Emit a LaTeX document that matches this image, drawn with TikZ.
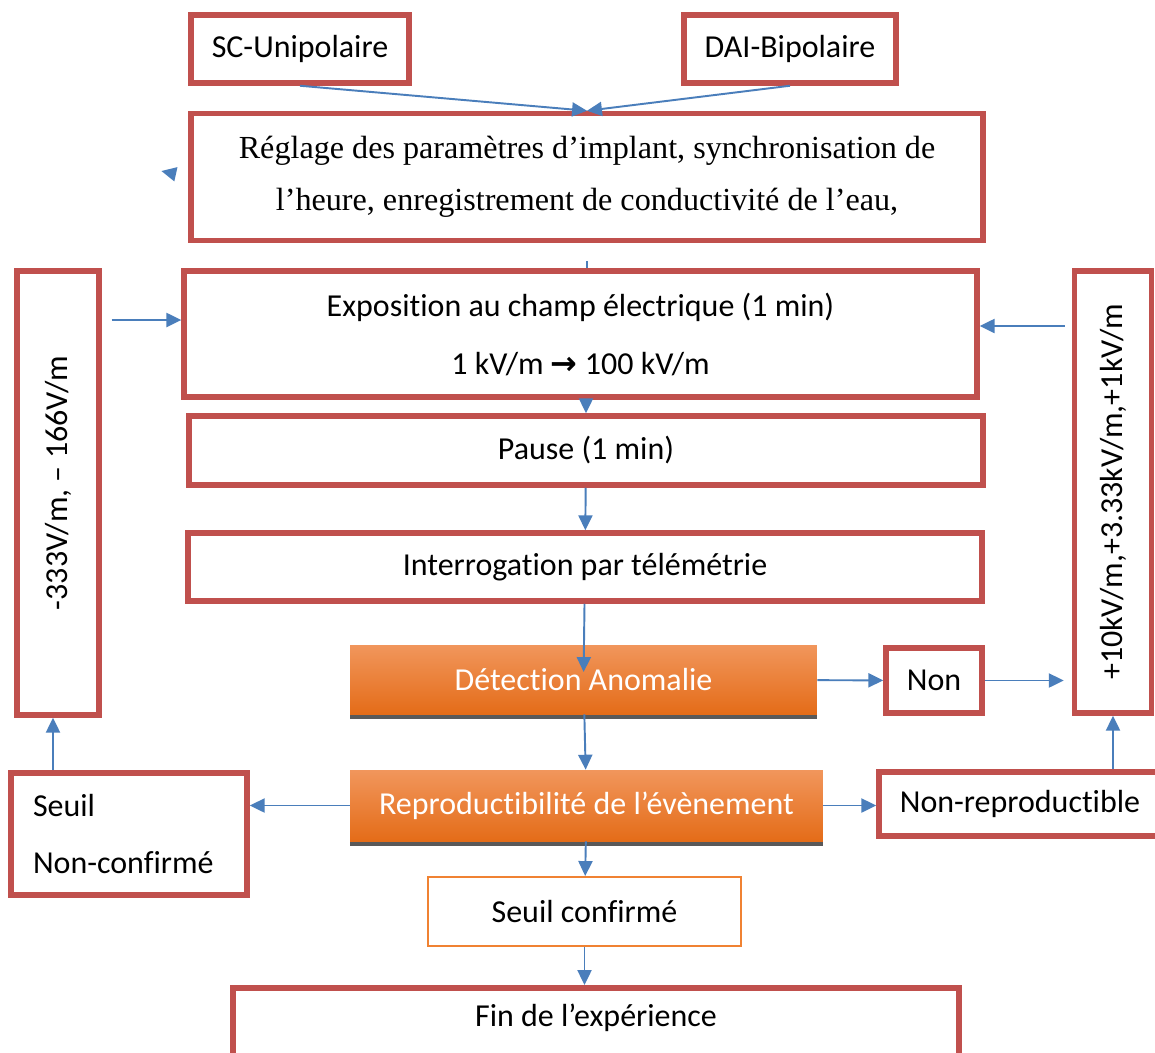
\documentclass[tikz,border=0pt]{standalone}
\usepackage{fontspec}
\usepackage{graphicx}
\setmainfont{Carlito}[Ligatures=NoCommon]
\newfontfamily\timesfont{Liberation Serif}
\newfontfamily\arrowfont{DejaVu Sans}
\usetikzlibrary{arrows.meta,shadows}

\definecolor{boxred}{RGB}{192,80,77}
\definecolor{linkblue}{RGB}{74,126,187}
\definecolor{confirmorange}{RGB}{240,130,50}

\tikzset{
  redbox/.style={draw=boxred, line width=0.11cm, inner sep=0pt, align=center},
  orangebox/.style={top color={rgb,255:red,241;green,150;blue,92},
    middle color={rgb,255:red,241;green,126;blue,42},
    bottom color={rgb,255:red,228;green,108;blue,24},
    text=white, inner sep=0pt, align=center,
    drop shadow={shadow xshift=0cm, shadow yshift=-0.1cm, fill=black!65, opacity=1}},
  thinbox/.style={draw=confirmorange, line width=0.04cm, inner sep=0pt, align=center},
  arr/.style={->, draw=linkblue, line width=1.1pt},
  flow/.style={draw=linkblue, line width=1.1pt}
}

\begin{document}
\begin{tikzpicture}[x=0.02cm, y=-0.02cm,
    >={Triangle[width=8pt,length=8.5pt]},
    every node/.style={font=\fontsize{18.2}{22}\selectfont}]
  \path[use as bounding box, fill=white] (0,0) rectangle (1155,1052);

  % entree
  \node[redbox, minimum width=4.36cm, minimum height=1.36cm] (sc) at (300,49) {SC-Unipolaire};
  \node[redbox, minimum width=4.24cm, minimum height=1.36cm] (dai) at (790,49) {DAI-Bipolaire};
  \node[redbox, minimum width=15.84cm, minimum height=2.54cm,
        font=\timesfont\fontsize{18.3}{22}\selectfont] (reg) at (587,177)
        {Réglage des paramètres d’implant, synchronisation de\\[7.5pt]
         l’heure, enregistrement de conductivité de l’eau,};

  % boucle
  \node[redbox, minimum width=15.86cm, minimum height=2.52cm] (expo) at (580.5,334)
        {Exposition au champ électrique (1 min)\\[11pt]
         1 kV/m {\arrowfont\bfseries →} 100 kV/m};
  \node[redbox, minimum width=15.88cm, minimum height=1.38cm] (pause) at (586,450.5) {Pause (1 min)};
  \node[redbox, minimum width=15.88cm, minimum height=1.36cm] (interro) at (585,567) {Interrogation par télémétrie};
  \node[orangebox, minimum width=9.34cm, minimum height=1.38cm] (det) at (583.5,679.5) {Détection Anomalie};
  \node[orangebox, minimum width=9.46cm, minimum height=1.42cm] (repro) at (586.5,805.5) {Reproductibilité de l’évènement};

  % cotes
  \node[redbox, minimum width=1.64cm, minimum height=8.88cm] (neg) at (58,493)
        {\rotatebox{90}{\hspace*{0.4cm}-333V/m, – 166V/m}};
  \node[redbox, minimum width=1.54cm, minimum height=8.84cm] (pos) at (1113,492)
        {\rotatebox{90}{+10kV/m,+3.33kV/m,+1kV/m}};
  \node[redbox, minimum width=1.92cm, minimum height=1.30cm] (non) at (934,680.5) {Non};
  \node[redbox, minimum width=4.72cm, minimum height=2.44cm, inner xsep=0.44cm,
        text width=3.84cm, align=left] (seuilnc) at (129,834)
        {Seuil\\[10pt] Non-confirmé};
  \node[redbox, minimum width=5.64cm, minimum height=1.28cm] (nonrepro) at (1020,804) {Non-reproductible};

  % fin
  \node[thinbox, minimum width=6.26cm, minimum height=1.38cm] (seuilc) at (584.5,911.5) {Seuil confirmé};
  \node[redbox, minimum width=14.52cm, minimum height=2.4cm, anchor=north] (fin) at (596,985) {};
  \node (fintxt) at (596,1018) {Fin de l’expérience};

  % fleches
  \draw[arr] (sc.south) -- (reg.north);
  \draw[arr] (dai.south) -- (reg.north);
  \draw[arr, shorten <=0.33cm] (reg.west) -- ++(-27,-6);
  \draw[flow, shorten <=0.36cm] (reg.south) -- (reg.south |- expo.north);
  \draw[arr, shorten <=0.2cm] (neg.east |- 0,320) -- (expo.west |- 0,320);
  \draw[arr, shorten <=0.14cm] (pos.west |- 0,326) -- (expo.east |- 0,326);
  \draw[arr] (expo.south -| pause.north) -- (pause.north);
  \draw[arr] (pause) -- (interro);
  \draw[arr, shorten >=0.15cm] (interro) -- (det.center);
  \draw[arr] (det) -- (repro);
  \draw[arr] (det) -- (non);
  \draw[arr, shorten >=0.16cm] (non.east) -- (pos.west |- non.east);
  \draw[arr] (repro.west) -- (seuilnc.east |- repro.west);
  \draw[arr] (repro.east) -- (nonrepro.west |- repro.east);
  \draw[arr] ([xshift=-0.1cm]neg.south |- seuilnc.north) -- ([xshift=-0.1cm]neg.south);
  \draw[arr] (pos.south |- nonrepro.north) -- (pos.south);
  \draw[arr] (repro) -- (seuilc);
  \draw[arr] (seuilc.south) -- (seuilc.south |- fin.north);
\end{tikzpicture}
\end{document}
